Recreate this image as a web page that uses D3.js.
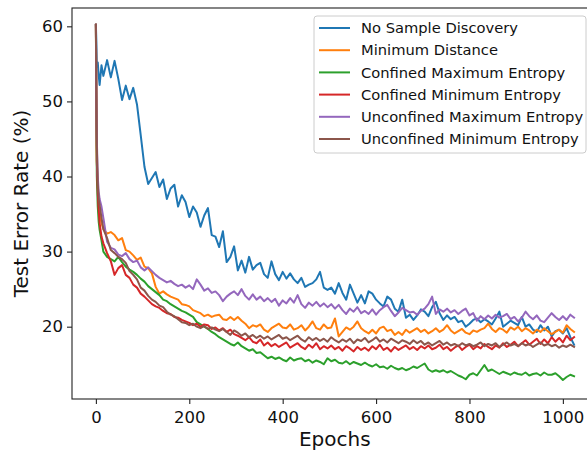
<!DOCTYPE html>
<html>
<head>
<meta charset="utf-8">
<script src="https://cdn.jsdelivr.net/npm/d3@7"></script>
<style>
  html, body { margin: 0; padding: 0; background: #fff; }
  svg { display: block; font-family: "DejaVu Sans", sans-serif; }
</style>
</head>
<body>
<div id="chart"></div>
<script>
// epochs: a dense head, then every 8 epochs up to 1024
const epochs = [0, 1, 2, 4, 6, 8, 12].concat(d3.range(16, 1025, 8));

const noSampleDiscovery = [
  60.2, 58.0, 54.6, 55.2, 53.5, 52.2, 54.8,
  53.4, 55.5, 53.2, 55.4, 53.0, 50.2, 52.1, 50.3, 51.8, 49.6,
  45.5, 41.3, 39.0, 39.8, 40.6, 38.6, 39.6, 37.0, 38.4, 38.9,
  36.0, 37.5, 36.6, 34.6, 36.0, 35.2, 33.3, 34.8, 35.8, 32.2,
  32.0, 30.6, 32.7, 28.6, 29.3, 30.7, 27.5, 28.8, 27.2, 29.3,
  27.6, 28.2, 28.5, 27.0, 26.5, 28.7, 27.0, 26.2, 27.3, 26.4,
  27.1, 26.3, 25.8, 26.5, 25.3, 25.6, 25.8, 26.3, 27.3, 25.2,
  24.9, 25.2, 24.4, 25.8, 24.5, 23.6, 25.6, 24.4, 23.2, 24.2,
  23.1, 24.7, 24.4, 23.6, 23.1, 22.7, 24.0, 23.6, 22.4, 22.0,
  23.6, 21.2, 21.6, 20.9, 21.5, 22.3, 22.0, 21.4, 22.6, 23.3,
  21.8, 20.9, 21.5, 21.0, 21.3, 20.6, 20.8, 20.0, 20.4, 20.9,
  21.1, 20.6, 21.0, 20.7, 20.3, 21.1, 22.0, 20.0, 20.4, 20.8,
  20.5, 20.2, 21.3, 20.0, 20.3, 19.6, 19.3, 20.2, 19.5, 20.0,
  18.7, 19.4, 19.6, 19.1, 19.8, 18.6, 17.6
];

const minimumDistance = [
  60.2, 50.0, 42.0, 38.5, 36.5, 35.2, 33.8,
  33.0, 32.4, 32.6, 32.2, 31.5, 31.8, 30.2, 30.0, 29.5, 28.9,
  29.2, 28.0, 27.8, 27.1, 25.3, 24.4, 24.7, 24.3, 24.0, 23.8,
  23.6, 23.0, 22.9, 22.7, 22.2, 22.0, 21.8, 21.4, 21.6, 21.3,
  21.5, 21.6, 21.0, 20.9, 21.3, 20.9, 21.3, 20.8, 20.4, 19.8,
  20.2, 20.0, 20.3, 19.6, 19.3, 19.8, 20.1, 20.4, 19.9, 19.8,
  20.3, 19.6, 19.8, 20.2, 19.5, 20.0, 20.7, 19.8, 19.6, 20.3,
  19.8, 19.9, 21.1, 18.7, 19.3, 19.9, 19.6, 20.0, 20.7, 19.8,
  19.4, 19.1, 19.6, 19.1, 19.8, 20.0, 19.4, 19.6, 18.9, 19.3,
  18.9, 19.6, 19.2, 19.5, 19.8, 19.3, 19.6, 19.1, 19.4, 19.8,
  19.3, 19.6, 20.2, 19.5, 19.1, 19.4, 19.7, 19.2, 19.0, 19.5,
  19.3, 19.6, 19.8, 20.4, 19.7, 19.3, 19.8, 19.6, 19.2, 19.9,
  19.6, 20.0, 19.4, 19.8, 19.5, 19.1, 19.6, 19.3, 19.8, 19.4,
  19.0, 19.3, 19.6, 19.2, 20.2, 19.7, 19.3
];

const confinedMaxEntropy = [
  60.2, 48.0, 40.0, 36.0, 34.0, 32.9, 31.5,
  30.0, 29.3, 29.0, 28.7, 29.3, 28.6, 28.0, 27.6, 27.3, 26.9,
  26.4, 26.0, 25.4, 25.0, 24.6, 24.2, 23.6, 23.4, 23.0, 22.7,
  22.4, 22.1, 21.9, 21.6, 21.3, 20.6, 20.3, 20.0, 19.7, 19.3,
  19.0, 18.6, 18.3, 18.0, 17.7, 17.5, 17.9, 17.4, 17.1, 16.8,
  17.0, 16.5, 16.6, 16.2, 15.8, 16.0, 15.7, 15.9, 15.6, 15.4,
  15.9, 15.5, 15.7, 15.8, 15.4, 15.6, 15.2, 15.5, 15.3, 15.0,
  15.8, 15.4, 15.6, 15.2, 15.1, 15.4, 15.0, 15.3, 15.1, 14.9,
  15.2, 14.9, 14.7, 15.0, 14.6, 14.7, 14.4, 14.8, 14.5, 14.3,
  14.5, 14.2, 14.4, 14.7, 14.5, 14.8, 15.1, 14.3, 14.0, 14.2,
  14.0, 14.2, 13.9, 14.1, 13.8, 13.5, 13.3, 13.0, 13.6, 13.8,
  13.5, 14.2, 14.9, 14.1, 14.3, 14.0, 13.7, 14.0, 13.8, 13.6,
  13.9, 13.7, 13.6, 13.9, 13.5, 13.7, 13.8, 13.5, 13.9, 13.6,
  13.6, 13.8, 13.4, 12.9, 13.3, 13.6, 13.4
];

const confinedMinEntropy = [
  60.2, 50.0, 42.0, 37.8, 35.5, 33.8, 32.0,
  31.1, 29.8, 28.7, 26.9, 27.8, 28.2, 26.9, 26.5, 25.6, 25.2,
  24.4, 24.0, 23.5, 23.0, 22.7, 22.5, 22.1, 21.8, 21.7, 21.3,
  21.2, 20.9, 20.7, 20.5, 20.2, 20.4, 20.0, 20.3, 20.2, 19.7,
  19.9, 19.5, 19.8, 19.3, 19.6, 19.0, 18.8, 18.5, 18.2, 18.6,
  18.0, 17.8, 18.3, 17.5, 17.9, 17.4, 17.7, 17.3, 17.6, 17.9,
  17.2, 17.5, 17.8, 17.3, 17.0, 17.6, 17.2, 17.8, 17.0, 17.4,
  17.1, 17.5, 17.0, 17.3, 16.8, 17.4, 17.1, 16.7, 17.3, 16.9,
  17.2, 16.8, 17.4, 17.0, 17.6, 16.9, 17.2, 16.7, 17.3, 16.9,
  17.2, 17.5, 17.0, 17.3, 16.9, 17.4, 17.1, 17.5, 17.0, 17.2,
  17.6, 17.0, 17.3, 16.8, 17.2, 17.5, 16.9, 17.3, 17.6, 17.0,
  17.4, 17.1, 17.7, 17.3, 17.0, 17.5, 17.2, 17.8, 17.3, 17.6,
  18.0, 17.4, 17.8, 18.2, 17.6, 18.0, 18.4, 17.7, 18.3, 17.8,
  18.6, 18.0, 18.5, 17.9, 18.8, 18.2, 18.6
];

const unconfinedMaxEntropy = [
  60.2, 52.0, 45.0, 40.0, 38.0, 37.0, 36.0,
  34.5, 31.3, 30.5, 30.3, 29.6, 29.4, 29.8, 29.0, 28.6, 28.8,
  27.9, 27.5, 27.9, 27.4, 26.9, 26.5, 26.2, 25.9, 26.1, 25.7,
  25.4, 25.6, 25.2, 25.5, 25.0, 26.3, 25.6, 24.8, 25.1, 24.5,
  24.7, 24.2, 23.4, 24.0, 24.4, 24.7, 24.2, 25.0, 24.1, 23.6,
  24.3, 23.6, 24.0, 23.4, 23.8, 23.3, 23.7, 22.8, 23.5, 23.1,
  23.8, 23.2, 24.2, 23.0, 22.5, 23.2, 22.8, 23.3, 22.7, 23.1,
  22.6, 23.0, 22.4, 22.9, 22.2, 21.7, 22.4, 22.0, 22.6, 21.8,
  22.1, 21.7, 22.3, 21.6, 22.2, 22.6, 22.9, 22.1, 21.4, 21.9,
  22.5, 22.2, 21.9, 22.0, 21.6, 22.1, 22.4, 23.0, 24.0, 21.7,
  22.3, 22.0, 22.4, 21.9, 22.2, 21.7, 22.1, 22.4, 21.5, 21.8,
  20.8, 21.4, 21.0, 21.5, 21.1, 21.6, 21.2, 21.4, 21.7, 21.0,
  21.3, 20.7, 21.2, 22.0, 21.4, 21.0, 21.5, 20.8, 20.6, 21.2,
  21.8, 21.3, 20.9, 21.4, 20.9, 21.6, 21.2
];

const unconfinedMinEntropy = [
  60.2, 52.0, 44.0, 39.0, 37.0, 36.2, 34.5,
  33.0, 31.8, 30.2, 29.8, 29.3, 29.0, 28.5, 27.4, 26.9, 26.3,
  25.2, 24.8, 24.1, 23.6, 23.3, 22.8, 22.6, 22.0, 21.6, 21.4,
  21.0, 20.6, 20.5, 20.2, 20.4, 20.0, 19.8, 20.1, 19.7, 19.9,
  19.6, 19.4, 19.7, 19.3, 18.9, 19.5, 19.2, 18.8, 19.1, 18.6,
  18.9, 18.5, 18.8, 18.4, 18.7, 18.3, 18.6, 18.9, 18.4, 18.6,
  18.2, 18.5, 18.8, 18.3, 18.0, 18.6, 18.2, 18.5, 18.1, 18.4,
  18.0, 18.6, 18.2, 17.9, 18.3, 18.0, 18.4, 17.8, 18.3, 18.1,
  18.5, 17.9, 18.2, 18.6, 18.0, 18.3, 17.9, 18.4, 18.1, 17.8,
  18.2, 18.0, 17.7, 18.2, 17.8, 18.1, 17.6, 17.9, 17.5, 17.8,
  18.1, 17.6, 17.9, 17.5, 17.7, 17.4, 17.8, 17.5, 17.7, 17.4,
  17.6, 17.9, 17.4, 17.7, 17.5, 17.8, 17.3, 17.6, 17.9, 17.5,
  17.7, 17.4, 17.8, 17.5, 17.7, 17.3, 17.6, 17.9, 17.5, 17.7,
  17.4, 17.6, 17.2, 17.5, 17.3, 17.6, 17.3
];

const seriesNames = [
  "No Sample Discovery",
  "Minimum Distance",
  "Confined Maximum Entropy",
  "Confined Minimum Entropy",
  "Unconfined Maximum Entropy",
  "Unconfined Minimum Entropy"
];
const seriesColors = ["#1f77b4", "#ff7f0e", "#2ca02c", "#d62728", "#9467bd", "#8c564b"];
const seriesValues = [
  noSampleDiscovery, minimumDistance, confinedMaxEntropy,
  confinedMinEntropy, unconfinedMaxEntropy, unconfinedMinEntropy
];

const xTicks = [0, 200, 400, 600, 800, 1000];
const yTicks = [20, 30, 40, 50, 60];

const width = 587, height = 451;
const plotLeft = 72, plotTop = 8, plotRight = 597.5, plotBottom = 399;

const svg = d3.select("#chart")
  .append("svg")
  .attr("width", width)
  .attr("height", height);

const xScale = d3.scaleLinear()
  .domain([-51.15, 1074.15])
  .range([plotLeft, plotRight]);

const yScale = d3.scaleLinear()
  .domain([10.37, 62.44])
  .range([plotBottom, plotTop]);

svg.append("clipPath")
  .attr("id", "plot-clip")
  .append("rect")
    .attr("x", plotLeft)
    .attr("y", plotTop)
    .attr("width", plotRight - plotLeft)
    .attr("height", plotBottom - plotTop);

// lines
const line = d3.line()
  .x(d => xScale(d[0]))
  .y(d => yScale(d[1]));

const lines = svg.append("g").attr("clip-path", "url(#plot-clip)");
seriesValues.forEach((vals, i) => {
  lines.append("path")
    .datum(epochs.map((e, j) => [e, vals[j]]))
    .attr("fill", "none")
    .attr("stroke", seriesColors[i])
    .attr("stroke-width", 2)
    .attr("stroke-linejoin", "round")
    .attr("stroke-linecap", "square")
    .attr("d", line);
});

// axes
const xAxis = d3.axisBottom(xScale).tickValues(xTicks).tickFormat(d3.format("d")).tickSize(5).tickPadding(4);
const yAxis = d3.axisLeft(yScale).tickValues(yTicks).tickFormat(d3.format("d")).tickSize(5).tickPadding(4);

const gx = svg.append("g")
  .attr("transform", `translate(0, ${plotBottom})`)
  .call(xAxis);
const gy = svg.append("g")
  .attr("transform", `translate(${plotLeft}, 0)`)
  .call(yAxis);

[gx, gy].forEach(g => {
  g.select(".domain").remove();
  g.selectAll(".tick line").attr("stroke", "#222").attr("stroke-width", 1.1);
  g.selectAll(".tick text")
    .attr("fill", "#111")
    .style("font-family", "DejaVu Sans")
    .style("font-size", "16.5px");
});
gx.selectAll(".tick text").attr("dy", "0.9em");

// frame
svg.append("rect")
  .attr("x", plotLeft)
  .attr("y", plotTop)
  .attr("width", plotRight - plotLeft)
  .attr("height", plotBottom - plotTop)
  .attr("fill", "none")
  .attr("stroke", "#222")
  .attr("stroke-width", 1.1);

// axis labels
svg.append("text")
  .attr("x", (plotLeft + plotRight) / 2)
  .attr("y", 446)
  .attr("text-anchor", "middle")
  .attr("fill", "#111")
  .style("font-size", "20px")
  .text("Epochs");

svg.append("text")
  .attr("transform", `translate(28, ${(plotTop + plotBottom) / 2}) rotate(-90)`)
  .attr("text-anchor", "middle")
  .attr("fill", "#111")
  .style("font-size", "20px")
  .text("Test Error Rate (%)");

// legend
const legend = svg.append("g");
legend.append("rect")
  .attr("x", 314)
  .attr("y", 16)
  .attr("width", 272)
  .attr("height", 137)
  .attr("rx", 3)
  .attr("fill", "#fff")
  .attr("fill-opacity", 0.8)
  .attr("stroke", "#ccc")
  .attr("stroke-width", 1);

seriesNames.forEach((name, i) => {
  const y = 28 + i * 22.2;
  legend.append("line")
    .attr("x1", 319).attr("x2", 350)
    .attr("y1", y).attr("y2", y)
    .attr("stroke", seriesColors[i])
    .attr("stroke-width", 2);
  legend.append("text")
    .attr("x", 361)
    .attr("y", y)
    .attr("dy", "0.36em")
    .attr("fill", "#111")
    .style("font-size", "14.7px")
    .text(name);
});
</script>
</body>
</html>
